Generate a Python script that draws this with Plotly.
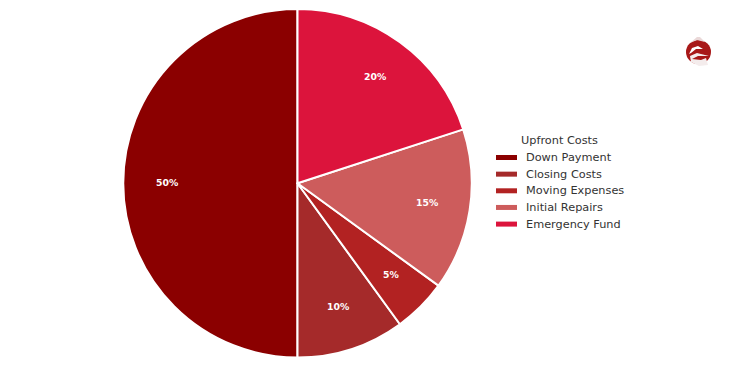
import math
import plotly.graph_objects as go

categories = ["Down Payment", "Closing Costs", "Moving Expenses", "Initial Repairs", "Emergency Fund"]
values = [50, 10, 5, 15, 20]
colors = ["#8B0000", "#A52A2A", "#B22222", "#CD5C5C", "#DC143C"]
legend_title = "Upfront Costs"

W, H = 750, 375
CX, CY, R = 297.5, 183.25, 174.25
FONT = "DejaVu Sans"


def px(x):
    return x / W


def py(y):
    return 1 - y / H


fig = go.Figure(
    go.Pie(
        labels=categories,
        values=values,
        sort=False,
        direction="counterclockwise",
        rotation=180,
        marker=dict(colors=colors, line=dict(color="white", width=2)),
        textinfo="none",
        hoverinfo="label+percent",
        showlegend=False,
        domain=dict(x=[px(CX - R), px(CX + R)], y=[py(CY + R), py(CY - R)]),
    )
)

annotations = []
shapes = []

# percentage labels, placed from the values
total = sum(values)
cum = 0
for v in values:
    mid = (cum + v / 2) / total * 2 * math.pi
    cum += v
    annotations.append(dict(
        x=px(CX + 0.7 - 0.75 * R * math.sin(mid)), y=py(CY - 1 - 0.75 * R * math.cos(mid)),
        xref="paper", yref="paper", xanchor="center", yanchor="middle", showarrow=False,
        text=f"<b>{round(v / total * 100)}%</b>",
        font=dict(family=FONT, size=9.3, color="white"),
    ))

# legend
annotations.append(dict(
    x=px(559.5), y=py(140.7), xref="paper", yref="paper", xanchor="center", yanchor="middle",
    showarrow=False, text=legend_title, font=dict(family=FONT, size=11.3, color="#333333"),
))
for i, (name, col) in enumerate(zip(categories, colors)):
    y = 157.5 + i * 16.65
    shapes.append(dict(type="rect", xref="paper", yref="paper", x0=px(496), x1=px(517),
                       y0=py(y + 2.5), y1=py(y - 2.5), fillcolor=col, line=dict(width=0)))
    annotations.append(dict(
        x=px(524), y=py(y), xref="paper", yref="paper", xanchor="left", yanchor="middle",
        showarrow=False, text=name, font=dict(family=FONT, size=11.3, color="#333333"),
    ))

# small logo, top right
def logo_path(points):
    return "M" + " L".join(f"{px(a):.5f},{py(b):.5f}" for a, b in points) + " Z"

shapes.append(dict(type="circle", xref="paper", yref="paper", x0=px(686), x1=px(711),
                   y0=py(64), y1=py(40), fillcolor="#A81818", line=dict(width=0)))
shapes.append(dict(type="path", xref="paper", yref="paper",
                   path=logo_path([(690, 43), (697, 37), (700, 37), (705, 42), (697, 40)]),
                   fillcolor="#EAD8D8", line=dict(width=0)))
shapes.append(dict(type="path", xref="paper", yref="paper",
                   path=logo_path([(689, 54), (692, 48), (698, 46), (703, 49), (696, 49), (691, 53)]),
                   fillcolor="white", line=dict(width=0)))
shapes.append(dict(type="path", xref="paper", yref="paper",
                   path=logo_path([(690, 56), (697, 53), (709, 56), (698, 56), (692, 59), (701, 60), (706, 58), (708, 65), (699, 66), (691, 62)]),
                   fillcolor="#F4ECEC", line=dict(width=0)))

fig.update_layout(
    width=W, height=H, autosize=False,
    margin=dict(l=0, r=0, t=0, b=0),
    paper_bgcolor="white", plot_bgcolor="white",
    annotations=annotations, shapes=shapes,
    font=dict(family=FONT),
)
fig.write_html(
    "out.html",
    config=dict(displayModeBar=False),
    post_script="document.body.style.margin='0';document.documentElement.style.overflow='hidden';",
)
